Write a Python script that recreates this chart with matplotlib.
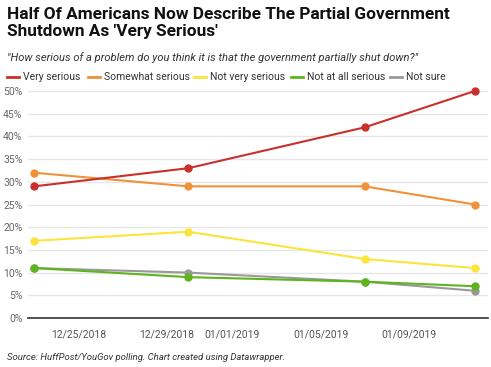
import numpy as np
import matplotlib
matplotlib.use('Agg')
import matplotlib.pyplot as plt
import matplotlib.dates as mdates
from matplotlib.lines import Line2D
import datetime as dt

plt.rcParams['font.family'] = ['Roboto', 'DejaVu Sans']

# datos
fechas = [dt.date(2018, 12, 23), dt.date(2018, 12, 30), dt.date(2019, 1, 7), dt.date(2019, 1, 12)]
series = ['Very serious', 'Somewhat serious', 'Not very serious', 'Not at all serious', 'Not sure']
very_serious = [29, 33, 42, 50]
somewhat_serious = [32, 29, 29, 25]
not_very_serious = [17, 19, 13, 11]
not_at_all_serious = [11, 9, 8, 7]
not_sure = [11, 10, 8, 6]
valores = [very_serious, somewhat_serious, not_very_serious, not_at_all_serious, not_sure]
colores = ['#c9302c', '#f0923a', '#fbe43c', '#5db41c', '#999999']
ticks_x = [dt.date(2018, 12, 25), dt.date(2018, 12, 29), dt.date(2019, 1, 1), dt.date(2019, 1, 5), dt.date(2019, 1, 9)]
ticks_y = [0, 5, 10, 15, 20, 25, 30, 35, 40, 45, 50]

fig = plt.figure(figsize=(4.91, 3.67), dpi=100)
ax = fig.add_axes([0.057, 0.1335, 0.937, 0.6185])

orden = [4, 3, 2, 1, 0]
for i in orden:
    ax.plot(fechas, valores[i], color=colores[i], lw=1.5, marker='o', ms=5,
            clip_on=False, zorder=3 + (4 - i))

base = mdates.date2num(dt.date(2018, 12, 25))
ax.set_xlim(base - 2.28, base + 18.6)
ax.set_ylim(0, 50)
ax.set_yticks(ticks_y)
ax.set_yticklabels([f'{v}%' for v in ticks_y])
ax.set_xticks(ticks_x)
ax.set_xticklabels([d.strftime('%m/%d/%Y') for d in ticks_x])
ax.grid(axis='y', color='#e6e6e6', lw=1)
ax.set_axisbelow(True)
for s in ['top', 'right', 'left']:
    ax.spines[s].set_visible(False)
ax.spines['bottom'].set_color('#333333')
ax.spines['bottom'].set_linewidth(1.2)
ax.tick_params(axis='both', length=0, labelsize=7.5, colors='#666666')
ax.tick_params(axis='x', pad=8, colors='#555555')
ax.tick_params(axis='y', pad=4)

fig.text(0.014, 0.982, "Half Of Americans Now Describe The Partial Government\nShutdown As 'Very Serious'",
         fontsize=12.4, fontweight='bold', va='top', ha='left', linespacing=1.22, color='#111111')
fig.text(0.014, 0.843, '"How serious of a problem do you think it is that the government partially shut down?"',
         fontsize=8, style='italic', va='center', ha='left', color='#333333')

leg_x = [7, 88, 194, 291, 390]
for k, nombre in enumerate(series):
    x0 = leg_x[k] / 491
    fig.add_artist(Line2D([x0, x0 + 12 / 491], [0.79, 0.79], color=colores[k], lw=2))
    fig.text(x0 + 16 / 491, 0.79, nombre, fontsize=7.5, va='center', ha='left', color='#333333')

fig.text(0.014, 0.027, 'Source: HuffPost/YouGov polling. Chart created using Datawrapper.',
         fontsize=6.8, style='italic', va='center', ha='left', color='#333333')

fig.savefig('out.png', dpi=100)
